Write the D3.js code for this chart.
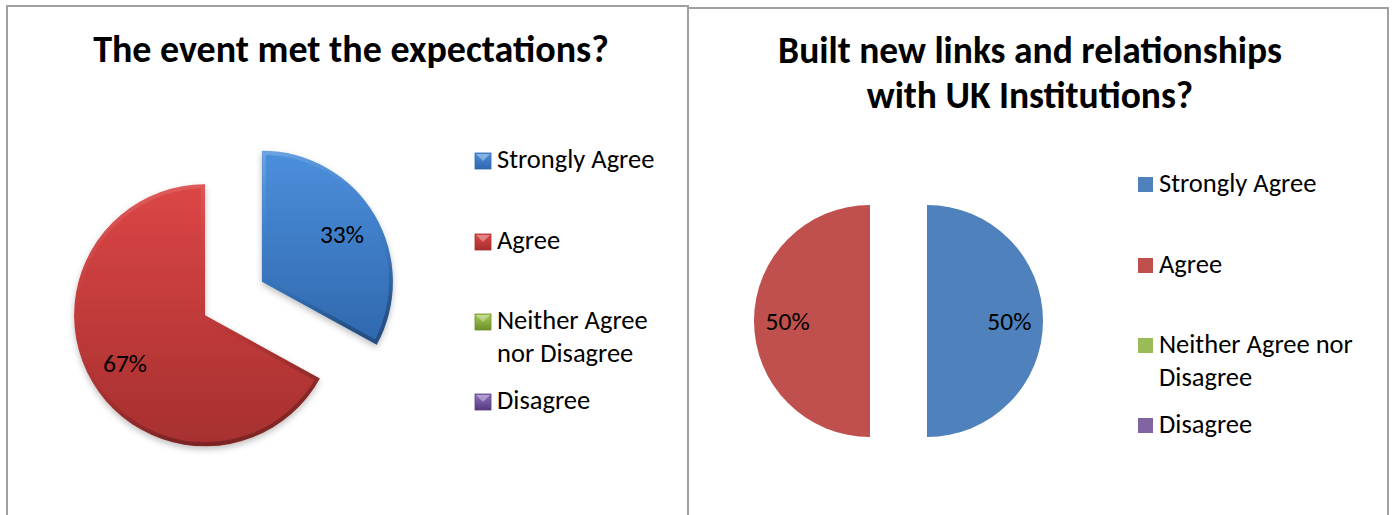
<!DOCTYPE html>
<html>
<head>
<meta charset="utf-8">
<script src="https://cdn.jsdelivr.net/npm/d3@7"></script>
<style>
  body { margin: 0; background: #fff; }
  text { font-family: Carlito, Lato, "Open Sans", sans-serif; fill: #000; }
</style>
</head>
<body>
<script>
const categories = ["Strongly Agree", "Agree", "Neither Agree nor Disagree", "Disagree"];
const expectationValues = [33, 67, 0, 0];
const linksValues = [50, 50, 0, 0];
const leftLegendLines = [["Strongly Agree"], ["Agree"], ["Neither Agree", "nor Disagree"], ["Disagree"]];
const rightLegendLines = [["Strongly Agree"], ["Agree"], ["Neither Agree nor", "Disagree"], ["Disagree"]];
const leftTitle = ["The event met the expectations?"];
const rightTitle = ["Built new links and relationships", "with UK Institutions?"];

const flatColors = ["#4f81bd", "#c0504d", "#9bbb59", "#8064a2"];
// light / mid / dark for the bevelled 2007 look
const shinyColors = [
    ["#4c8fdc", "#3f7dc8", "#2f68ae"],
    ["#dc4646", "#c63d3d", "#a62f2f"],
    ["#a6cd55", "#8db13e", "#6d8e2a"],
    ["#9070c0", "#7152a0", "#553a80"]
];

const svg = d3.select("body")
    .append("svg")
    .attr("width", 1393)
    .attr("height", 515);

const defs = svg.append("defs");

const shadow = defs.append("filter").attr("id", "shadow")
    .attr("x", "-20%").attr("y", "-20%").attr("width", "140%").attr("height", "140%");
shadow.append("feDropShadow")
    .attr("dx", 0).attr("dy", 3).attr("stdDeviation", 3)
    .attr("flood-color", "#000").attr("flood-opacity", 0.25);

shinyColors.forEach(function(c, i) {
    const g = defs.append("linearGradient").attr("id", "fill" + i)
        .attr("x1", 0).attr("y1", 0).attr("x2", 0).attr("y2", 1);
    g.append("stop").attr("offset", "0%").attr("stop-color", c[0]);
    g.append("stop").attr("offset", "100%").attr("stop-color", c[2]);
    const b = defs.append("linearGradient").attr("id", "bevel" + i)
        .attr("x1", 0).attr("y1", 0).attr("x2", 0.3).attr("y2", 1);
    b.append("stop").attr("offset", "0%").attr("stop-color", "#ffffff").attr("stop-opacity", 0.2);
    b.append("stop").attr("offset", "50%").attr("stop-color", c[1]).attr("stop-opacity", 0);
    b.append("stop").attr("offset", "100%").attr("stop-color", "#000000").attr("stop-opacity", 0.25);
});

// panel frames
const frame = svg.append("g")
    .attr("fill", "none")
    .attr("stroke", "#a0a0a0")
    .attr("stroke-width", 2);
frame.append("path").attr("d", "M7,515 V6 H688 V515");
frame.append("path").attr("d", "M688,8 H1388 V515");

function drawPie(opts) {
    const g = svg.append("g").attr("transform", "translate(" + opts.cx + "," + opts.cy + ")");
    const pie = d3.pie().sort(null).value(function(d) { return d.value; });
    const arc = d3.arc().innerRadius(0).outerRadius(opts.r);
    const labelArc = d3.arc().innerRadius(opts.r * 0.71).outerRadius(opts.r * 0.71);
    const data = opts.values.map(function(v, i) { return {value: v, i: i}; });
    const arcs = pie(data).filter(function(d) { return d.value > 0; });

    const slices = g.selectAll("g.slice")
        .data(arcs).enter()
        .append("g")
        .attr("class", "slice")
        .attr("transform", function(d) {
            const a = (d.startAngle + d.endAngle) / 2;
            return "translate(" + (Math.sin(a) * opts.explode) + "," + (-Math.cos(a) * opts.explode) + ")";
        });

    if (opts.shiny) {
        slices.append("clipPath")
            .attr("id", function(d) { return opts.id + "clip" + d.data.i; })
            .append("path").attr("d", arc);
        slices.append("path")
            .attr("d", arc)
            .attr("fill", function(d) { return "url(#fill" + d.data.i + ")"; })
            .attr("filter", "url(#shadow)");
        slices.append("path")
            .attr("d", arc)
            .attr("fill", "none")
            .attr("stroke", function(d) { return "url(#bevel" + d.data.i + ")"; })
            .attr("stroke-width", 8)
            .attr("stroke-linejoin", "round")
            .attr("clip-path", function(d) { return "url(#" + opts.id + "clip" + d.data.i + ")"; });
    } else {
        slices.append("path")
            .attr("d", arc)
            .attr("fill", function(d) { return flatColors[d.data.i]; });
    }

    slices.append("text")
        .attr("transform", function(d) { return "translate(" + labelArc.centroid(d) + ")"; })
        .attr("text-anchor", "middle")
        .attr("dy", "0.35em")
        .attr("font-size", 25.5)
        .text(function(d) { return d.value + "%"; });
}

function drawTitle(lines, x, y0, lineH, size) {
    svg.append("text")
        .attr("x", x).attr("y", y0)
        .attr("text-anchor", "middle")
        .attr("font-size", size)
        .attr("font-weight", "bold")
        .selectAll("tspan")
        .data(lines).enter()
        .append("tspan")
        .attr("x", x)
        .attr("dy", function(d, i) { return i === 0 ? 0 : lineH; })
        .text(function(d) { return d; });
}

function drawLegend(opts) {
    const item = svg.selectAll(null)
        .data(opts.lines).enter()
        .append("g")
        .attr("transform", function(d, i) { return "translate(" + opts.x + "," + opts.ys[i] + ")"; });
    item.append("rect")
        .attr("x", 0).attr("y", -15)
        .attr("width", opts.box).attr("height", opts.box)
        .attr("fill", function(d, i) { return opts.shiny ? "url(#fill" + i + ")" : flatColors[i]; })
        .attr("stroke", function(d, i) { return opts.shiny ? shinyColors[i][2] : "none"; })
        .attr("stroke-width", 0.8);
    if (opts.shiny) {
        item.append("path")
            .attr("d", "M1,-14 L" + (opts.box / 2) + "," + (-15 + opts.box / 2) + " L" + (opts.box - 1) + ",-14 Z")
            .attr("fill", "#fff").attr("opacity", 0.35);
    }
    item.append("text")
        .attr("x", opts.box + 6)
        .attr("y", 0)
        .attr("font-size", 26.5)
        .selectAll("tspan")
        .data(function(d) { return d; }).enter()
        .append("tspan")
        .attr("x", opts.box + 6)
        .attr("dy", function(d, i) { return i === 0 ? 0 : 33; })
        .text(function(d) { return d; });
}

drawTitle(leftTitle, 351, 62, 45, 38);
drawTitle(rightTitle, 1030, 63, 45, 37.5);

drawPie({id: "left", values: expectationValues, cx: 233.5, cy: 298.5, r: 131, explode: 33, shiny: true});
drawPie({id: "right", values: linksValues, cx: 898.5, cy: 321, r: 116, explode: 28.5, shiny: false});

drawLegend({lines: leftLegendLines, x: 475, ys: [168, 249, 329, 409], box: 16, shiny: true});
drawLegend({lines: rightLegendLines, x: 1138, ys: [192, 273, 353, 433], box: 15, shiny: false});
</script>
</body>
</html>
